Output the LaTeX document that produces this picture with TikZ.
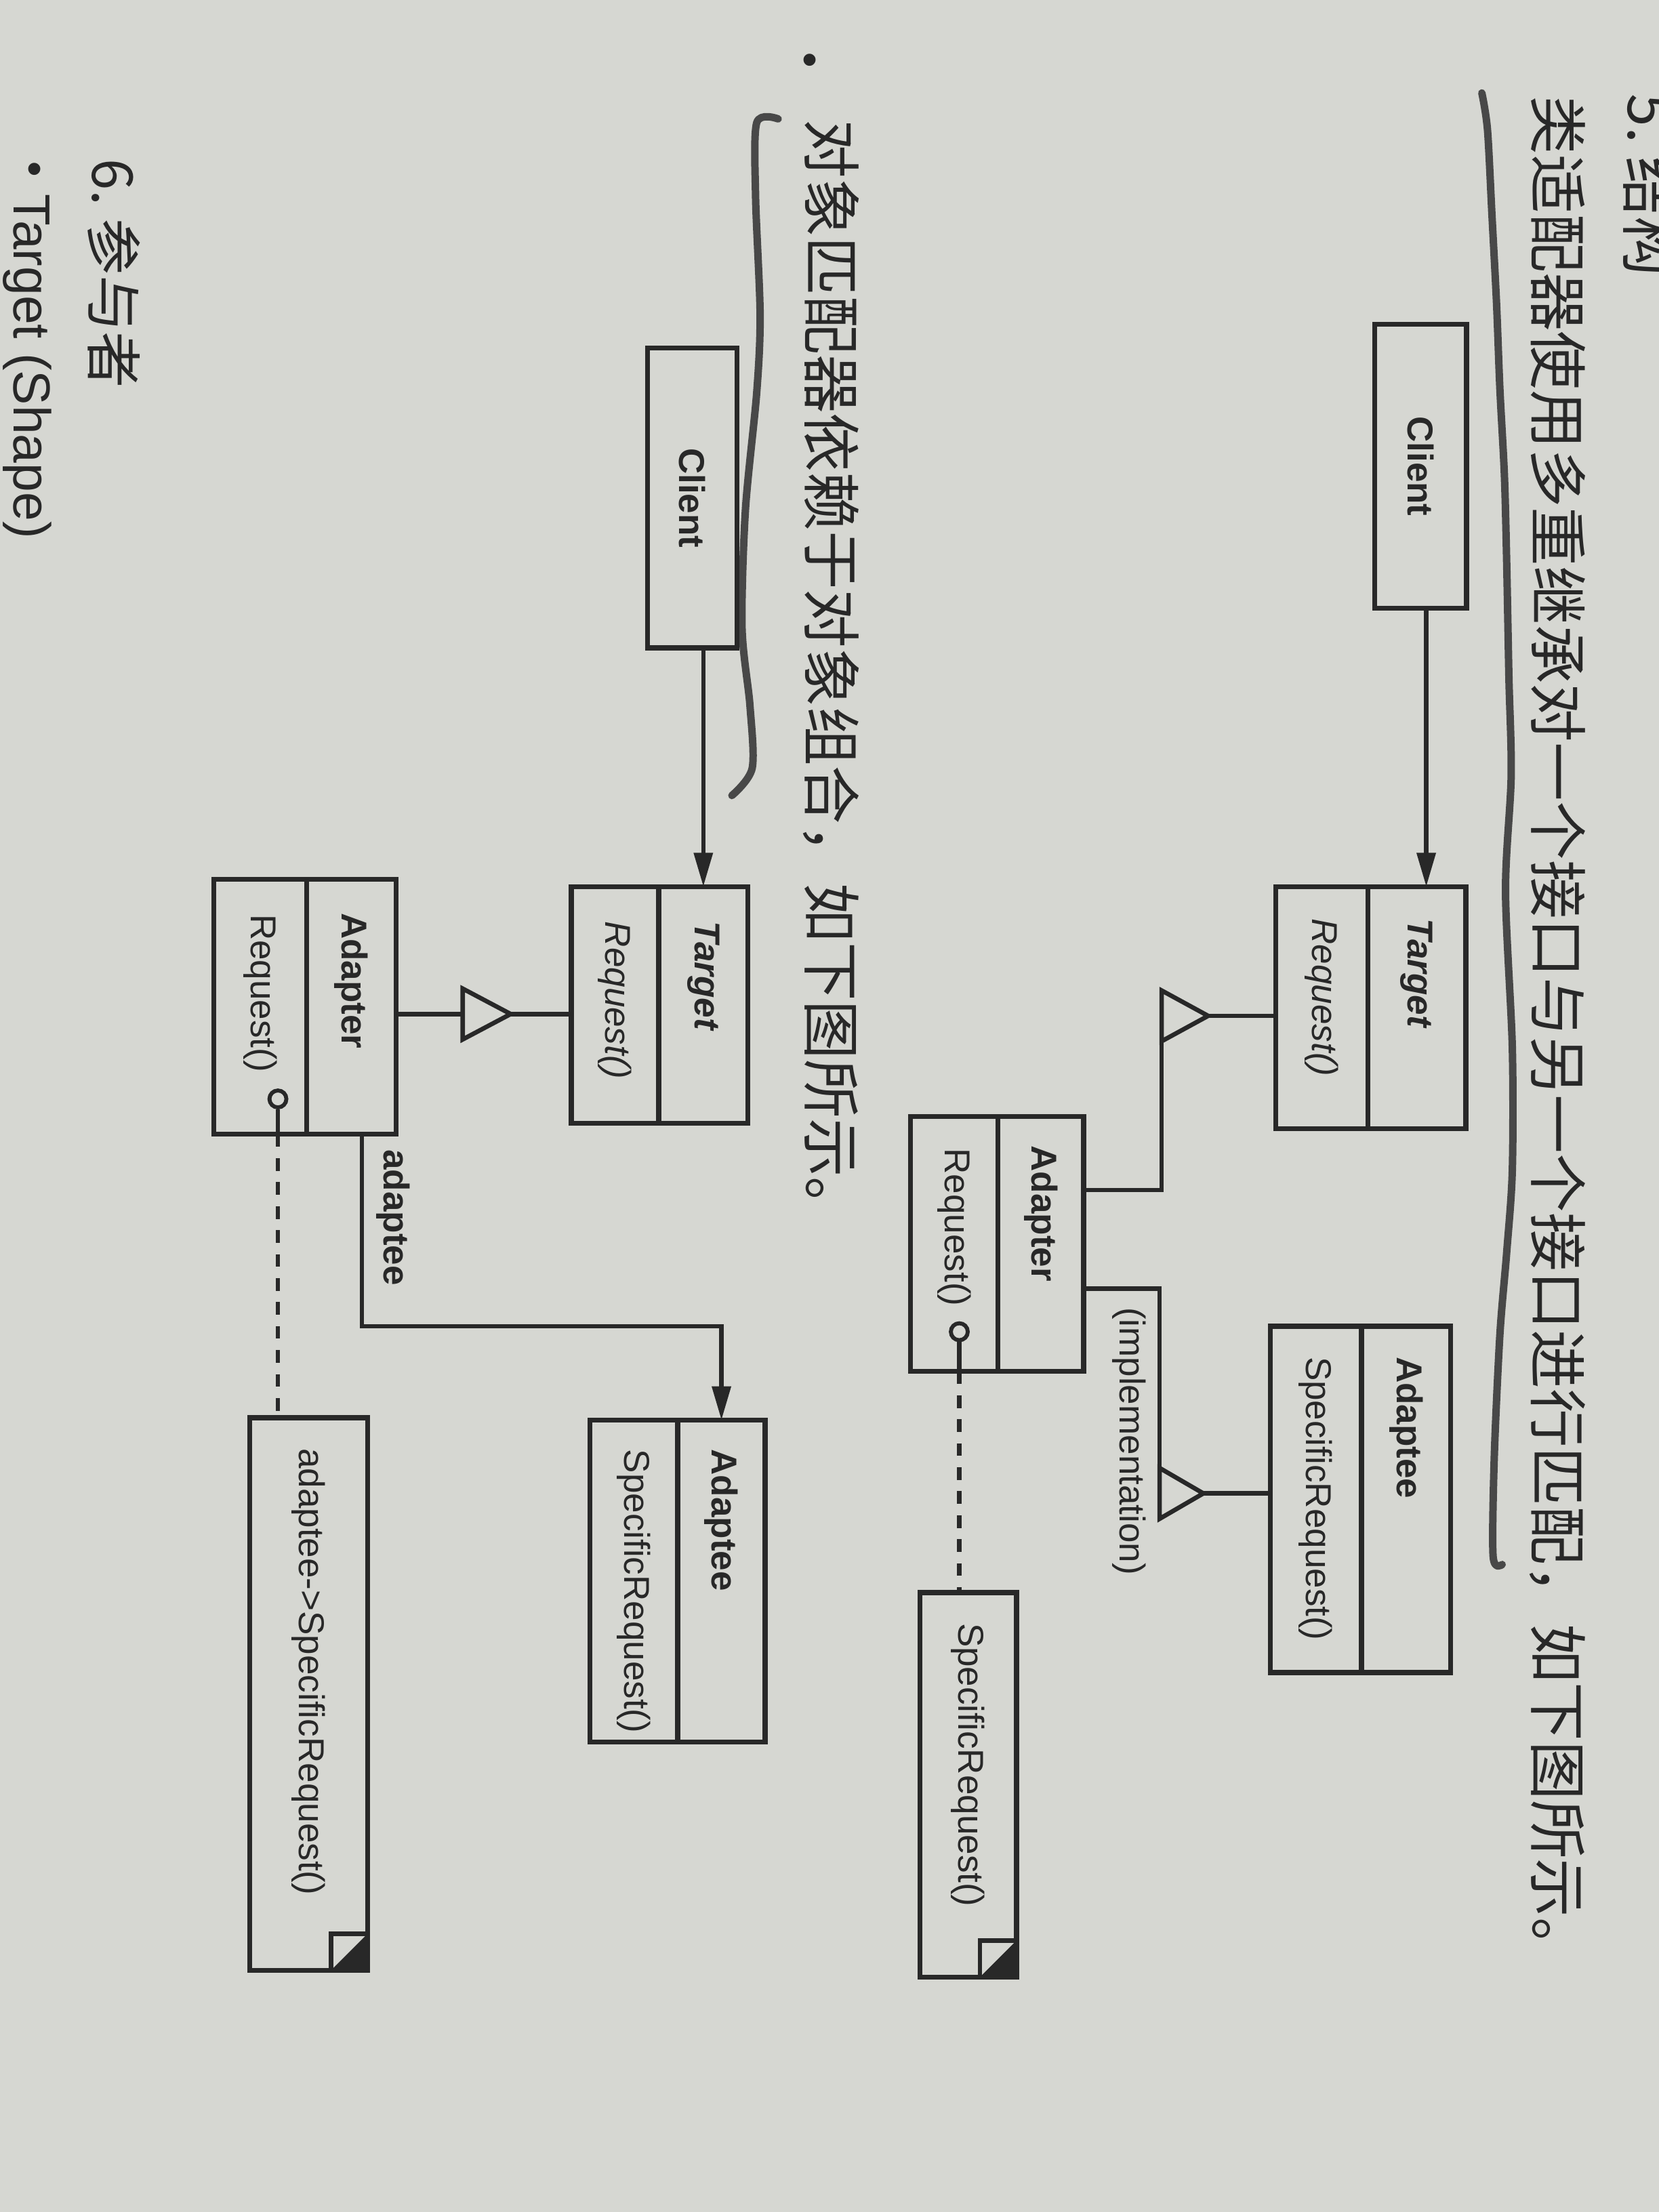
\documentclass[tikz,border=0pt]{standalone}
\usepackage{fontspec}
\usetikzlibrary{arrows.meta,positioning}
\newfontfamily\cjk{Noto Sans CJK SC}
\newfontfamily\uml{Liberation Sans}
\definecolor{paper}{RGB}{214,215,210}
\definecolor{ink}{RGB}{40,40,40}
\definecolor{pencil}{RGB}{72,72,72}
\tikzset{
  box/.style={draw=ink, line width=1pt, inner sep=0pt, outer sep=0pt},
  lbl/.style={inner sep=0pt, text=ink, font=\uml\fontsize{7.25}{8.5}\selectfont, rotate=-90},
  cls/.style={lbl, anchor=west},
  txt/.style={inner sep=0pt, text=ink, font=\cjk\fontsize{11.85}{14}\selectfont, rotate=-90, anchor=west},
  dot/.style={inner sep=0pt, text=ink, font=\uml\fontsize{9}{10}\selectfont},
  port/.style={draw=ink, line width=0.8pt, circle, fill=paper, minimum size=0.12cm, inner sep=0pt},
  link/.style={draw=ink, line width=0.9pt},
  assoc/.style={link, -{Triangle[length=2.4mm,width=1.3mm]}},
  dashlink/.style={link, dash pattern=on 0.9mm off 0.8mm},
  tri/.style={link, fill=paper, line join=miter},
  pen/.style={draw=pencil, line width=1.5pt, line cap=round, line join=round},
}
\begin{document}
\begin{tikzpicture}
    \fill[paper] (0,0) rectangle (11.76,-15.68);
    \useasboundingbox (0,0) rectangle (11.76,-15.68);
    \clip (0,0) rectangle (11.76,-15.68);

    % page text
    \node[txt, font=\cjk\fontsize{12}{14}\selectfont, anchor=base west] (secHead) at (11.54,-0.66) {5.\ 结构};
    \node[txt] (classLine) at (11.04,-0.675) {类适配器使用多重继承对一个接口与另一个接口进行匹配，如下图所示。};
    \node[dot] (objBullet) at (5.74,-0.455) {•};
    \node[txt] (objLine) at (5.89,-0.84) {对象匹配器依赖于对象组合，如下图所示。};
    \node[txt, font=\cjk\fontsize{11.4}{14}\selectfont] (partHead) at (0.81,-1.12) {6.\ 参与者};
    \node[dot] (partBullet) at (0.246,-1.23) {•};
    \node[lbl, font=\uml\fontsize{10.5}{12}\selectfont, anchor=base west] (partTarget) at (0.10,-1.37) {Target (Shape)};

    % pen marks
    \draw[pen] plot[smooth] coordinates {(10.504,-0.659) (10.544,-0.919) (10.576,-1.53) (10.608,-2.145) (10.632,-2.758) (10.664,-3.37) (10.68,-3.98) (10.696,-4.804) (10.712,-5.50) (10.672,-6.317) (10.72,-7.423) (10.72,-8.297) (10.68,-8.88) (10.632,-9.46) (10.592,-10.334) (10.584,-11.033) (10.648,-11.09)};
    \draw[pen] plot[smooth, tension=0.5] coordinates {(5.516,-0.843) (5.364,-0.87) (5.356,-1.397) (5.388,-2.229) (5.364,-2.783) (5.284,-3.615) (5.26,-4.447) (5.316,-5.001) (5.332,-5.445) (5.188,-5.639)};

    % class adapter
    \node[box, minimum width=0.651cm, minimum height=2.01cm] (clientA) at (10.07,-3.305) {};
    \node[lbl] (clientAtxt) at (clientA) {\textbf{Client}};

    \node[box, minimum width=0.696cm, minimum height=1.717cm] (targetA) at (10.043,-7.144) {};
    \node[box, minimum width=0.652cm, minimum height=1.717cm, left=0pt of targetA] (targetAops) {};
    \node[cls] (targetAname) at ([yshift=-0.22cm]targetA.north) {\textbf{\textit{Target}}};
    \node[cls] (targetAop) at ([yshift=-0.22cm]targetAops.north) {\textit{Request()}};

    \node[box, minimum width=0.633cm, minimum height=2.455cm] (adapteeA) at (9.967,-10.628) {};
    \node[box, minimum width=0.647cm, minimum height=2.455cm, left=0pt of adapteeA] (adapteeAops) {};
    \node[cls] (adapteeAname) at ([yshift=-0.21cm]adapteeA.north) {\textbf{Adaptee}};
    \node[cls] (adapteeAop) at ([yshift=-0.21cm]adapteeAops.north) {SpecificRequest()};

    \node[box, minimum width=0.606cm, minimum height=1.807cm] (adapterA) at (7.378,-8.817) {};
    \node[box, minimum width=0.62cm, minimum height=1.807cm, left=0pt of adapterA] (adapterAops) {};
    \node[cls] (adapterAname) at ([yshift=-0.20cm]adapterA.north) {\textbf{Adapter}};
    \node[cls] (adapterAop) at ([yshift=-0.22cm]adapterAops.north) {Request()};

    \node[box, minimum width=0.686cm, minimum height=2.727cm] (noteA) at (6.863,-12.652) {};
    \node[cls] (noteAtxt) at ([yshift=-0.21cm]noteA.north) {SpecificRequest()};
    \fill[ink] (noteA.south east) -- ++(0,0.26) -- ++(-0.26,-0.26) -- cycle;
    \draw[link] ([yshift=0.26cm]noteA.south east) -- ++(-0.26,0) -- ++(0,-0.26);

    \draw[assoc] ([xshift=0.04cm]clientA.south) -- ([xshift=0.04cm]clientA.south |- targetA.north);

    \coordinate (genA) at (8.234,-7.201);
    \coordinate (bendA) at (8.234,-8.435);
    \draw[link] ([xshift=0.33cm]genA) -- (targetAops.west |- genA);
    \draw[link] (adapterA.east |- bendA) -- (bendA) -- ([yshift=-0.18cm]genA);
    \draw[tri] ([yshift=0.18cm]genA) -- ([yshift=-0.18cm]genA) -- ([xshift=0.33cm]genA) -- cycle;

    \coordinate (genB) at (8.22,-10.586);
    \coordinate (bendB) at (8.22,-9.135);
    \draw[link] ([xshift=0.31cm]genB) -- (adapteeAops.west |- genB);
    \draw[link] (adapterA.east |- bendB) -- (bendB) -- ([yshift=0.18cm]genB);
    \draw[tri] ([yshift=0.18cm]genB) -- ([yshift=-0.18cm]genB) -- ([xshift=0.31cm]genB) -- cycle;
    \node[lbl, anchor=west] (implA) at (8.005,-9.26) {(implementation)};

    \node[port] (portA) at (6.80,-9.44) {};
    \draw[link] (portA.south) -- (portA |- adapterAops.south);
    \draw[dashlink] (portA |- adapterAops.south) -- (portA |- noteA.north);

    % object adapter
    \node[box, minimum width=0.635cm, minimum height=2.127cm] (clientB) at (4.9075,-3.5295) {};
    \node[lbl] (clientBtxt) at (clientB) {\textbf{Client}};

    \node[box, minimum width=0.633cm, minimum height=1.679cm] (targetB) at (4.9855,-7.1245) {};
    \node[box, minimum width=0.62cm, minimum height=1.679cm, left=0pt of targetB] (targetBops) {};
    \node[cls] (targetBname) at ([yshift=-0.24cm]targetB.north) {\textbf{\textit{Target}}};
    \node[cls] (targetBop) at ([yshift=-0.24cm]targetBops.north) {\textit{Request()}};

    \node[box, minimum width=0.633cm, minimum height=1.806cm] (adapterB) at (2.4915,-7.137) {};
    \node[box, minimum width=0.661cm, minimum height=1.806cm, left=0pt of adapterB] (adapterBops) {};
    \node[cls] (adapterBname) at ([yshift=-0.23cm]adapterB.north) {\textbf{Adapter}};
    \node[cls] (adapterBop) at ([yshift=-0.24cm]adapterBops.north) {Request()};

    \node[box, minimum width=0.62cm, minimum height=2.28cm] (adapteeB) at (5.114,-11.207) {};
    \node[box, minimum width=0.621cm, minimum height=2.28cm, left=0pt of adapteeB] (adapteeBops) {};
    \node[cls] (adapteeBname) at ([yshift=-0.20cm]adapteeB.north) {\textbf{Adaptee}};
    \node[cls] (adapteeBop) at ([yshift=-0.20cm]adapteeBops.north) {SpecificRequest()};

    \node[box, minimum width=0.836cm, minimum height=3.917cm] (noteB) at (2.188,-12.0085) {};
    \node[cls] (noteBtxt) at ([yshift=-0.21cm]noteB.north) {adaptee->SpecificRequest()};
    \fill[ink] (noteB.south east) -- ++(0,0.26) -- ++(-0.26,-0.26) -- cycle;
    \draw[link] ([yshift=0.26cm]noteB.south east) -- ++(-0.26,0) -- ++(0,-0.26);

    \draw[assoc] (clientB.south -| targetB.north) -- (targetB.north);

    \coordinate (genC) at (3.28,-7.188);
    \draw[link] (adapterB.east |- genC) -- (genC);
    \draw[link] ([xshift=0.34cm]genC) -- (targetBops.west |- genC);
    \draw[tri] ([yshift=0.18cm]genC) -- ([yshift=-0.18cm]genC) -- ([xshift=0.34cm]genC) -- cycle;

    \coordinate (bendC) at (2.566,-9.402);
    \draw[assoc] (bendC |- adapterB.south) -- (bendC) -- (bendC -| adapteeB.north) -- (adapteeB.north);
    \node[lbl, anchor=west] (adapteeBlbl) at (2.788,-8.142) {\textbf{adaptee}};

    \node[port] (portB) at (1.97,-7.79) {};
    \draw[link] (portB.south) -- (portB |- adapterBops.south);
    \draw[dashlink] (portB |- adapterBops.south) -- (portB |- noteB.north);
\end{tikzpicture}
\end{document}
